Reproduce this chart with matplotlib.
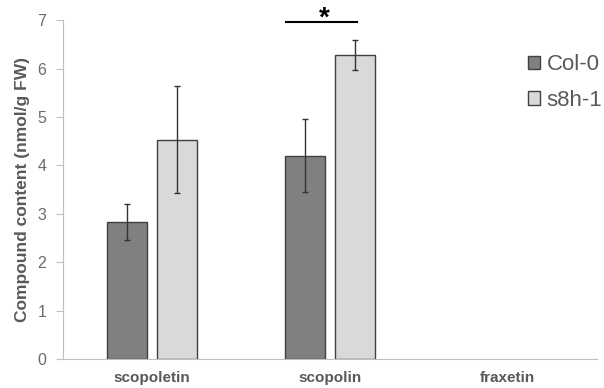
import numpy as np
import matplotlib
matplotlib.use('Agg')
import matplotlib.pyplot as plt
from matplotlib.patches import Patch

plt.rcParams['font.family'] = ['Liberation Sans', 'DejaVu Sans']

categories = ["scopoletin", "scopolin", "fraxetin"]
genotypes = ["Col-0", "s8h-1"]
col0_values = [2.83, 4.20, 0.0]
col0_errors = [0.38, 0.76, 0.0]
s8h_values = [4.53, 6.29, 0.0]
s8h_errors = [1.11, 0.31, 0.0]

fig = plt.figure(figsize=(6.04, 3.88), dpi=100)
ax = fig.add_axes([0.104, 0.075, 0.884, 0.873])

x = np.arange(len(categories))
w = 0.225
off = 0.14
err_kw = dict(ecolor='#333333', elinewidth=1.0, capsize=2.5, capthick=1.0)

ax.bar(x[:2] - off, col0_values[:2], w, yerr=col0_errors[:2], color='#808080',
       edgecolor='#404040', linewidth=1.0, error_kw=err_kw)
ax.bar(x[:2] + off, s8h_values[:2], w, yerr=s8h_errors[:2], color='#d9d9d9',
       edgecolor='#404040', linewidth=1.0, error_kw=err_kw)

ax.set_xlim(-0.5, 2.5)
ax.set_ylim(0, 7)
ax.set_xticks(x)
ax.set_xticklabels(categories, fontsize=11, fontweight='bold', color='#595959')
ax.set_yticks(range(8))
ax.tick_params(axis='y', labelsize=11.5, labelcolor='#6a6a6a', color='#bfbfbf', length=5, pad=7)
ax.tick_params(axis='x', length=0, pad=9)
ax.set_ylabel("Compound content (nmol/g FW)", fontsize=12.5, fontweight='bold',
              color='#595959', labelpad=5)

for s in ['top', 'right']:
    ax.spines[s].set_visible(False)
ax.spines['left'].set_color('#bfbfbf')
ax.spines['bottom'].set_color('#bfbfbf')

# significance bar
ax.plot([0.756, 1.154], [6.96, 6.96], color='black', linewidth=1.5, clip_on=False)
ax.text(0.969, 6.88, "*", ha='center', va='baseline', fontsize=20, fontweight='bold',
        clip_on=False)

handles = [Patch(facecolor='#808080', edgecolor='#404040'),
           Patch(facecolor='#d9d9d9', edgecolor='#404040')]
leg = fig.legend(handles, genotypes, loc='upper left', bbox_to_anchor=(0.874, 0.86),
                 frameon=False, fontsize=16, handlelength=0.55, handleheight=0.55,
                 handletextpad=0.3, labelspacing=0.65, labelcolor='#595959',
                 borderaxespad=0, borderpad=0)

fig.savefig("out.png", dpi=100)
